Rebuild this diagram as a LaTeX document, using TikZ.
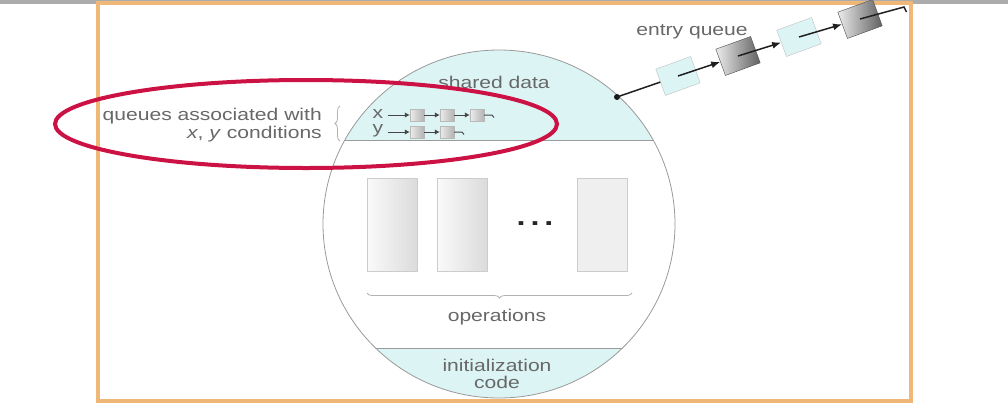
\documentclass[tikz,border=0pt]{standalone}
\usepackage{fontspec}
\setmainfont{Liberation Sans}[FakeStretch=1.24]
\usetikzlibrary{shapes.geometric,arrows.meta,decorations.pathreplacing,calc}
\definecolor{txt}{HTML}{686868}
\definecolor{cyanfill}{HTML}{DDF4F4}
\definecolor{framecol}{HTML}{F0B878}
\definecolor{hlcol}{HTML}{CC1144}
\definecolor{edgecol}{HTML}{9A9A9A}
\begin{document}
\begin{tikzpicture}[x=1pt,y=-1pt,
  lbl/.style={text=txt, font=\fontsize{17}{17}\selectfont, inner sep=0pt, align=center},
  opbox/.style={draw=gray!40, minimum width=50pt, minimum height=93pt, inner sep=0pt, left color=gray!4, right color=gray!28},
  opboxlight/.style={draw=gray!40, minimum width=50pt, minimum height=93pt, inner sep=0pt, fill=blue!3!gray!12},
  eqlight/.style={draw=gray!50, fill=cyanfill, minimum width=37pt, minimum height=28pt, inner sep=0pt, rotate=20},
  eqdark/.style={draw=gray!60!black, minimum width=37pt, minimum height=28pt, inner sep=0pt, rotate=20, left color=gray!15, right color=gray!75!black},
  ptr/.style={draw=gray!25!black, line width=1.5pt, -{Latex[length=9pt,width=7pt]}},
  plain/.style={draw=gray!25!black, line width=1.5pt},
  sq/.style={draw=gray!55, minimum width=14pt, minimum height=12pt, inner sep=0pt, left color=gray!15, right color=gray!60},
  sarr/.style={draw=gray!55!black, line width=1pt, -{Latex[length=5pt,width=5.5pt]}},
  stail/.style={draw=gray!55!black, line width=1pt},
  bracestyle/.style={draw=gray!60, line width=0.8pt, decorate}
]
\useasboundingbox (0,0) rectangle (1008,407);
\fill[white] (0,0) rectangle (1008,407);
\fill[gray!65] (0,0) rectangle (1008,4);
\draw[framecol, line width=4pt] (98,3) rectangle (911,401);

% monitor ellipse with filled regions
\begin{scope}
  \clip (499,224) ellipse [x radius=176, y radius=174];
  \fill[cyanfill] (300,0) rectangle (700,140);
  \fill[cyanfill] (300,348) rectangle (700,410);
  \draw[edgecol, line width=0.8pt] (300,140) -- (700,140);
  \draw[edgecol, line width=0.8pt] (300,348) -- (700,348);
\end{scope}
\draw[edgecol, line width=0.8pt] (499,224) ellipse [x radius=176, y radius=174];

% labels
\node[lbl] (shared) at (494,82) {shared data};
\node[lbl, anchor=east] (qa1) at (322,116) {queues associated with};
\node[lbl, anchor=east] (qa2) at (322,134) {\textit{x}, \textit{y} conditions};
\draw[bracestyle, decoration={brace, amplitude=5pt}] (340,141) -- (340,106);
\node[lbl] (init) at (497,374) {initialization\\code};
\node[lbl] (ops) at (497,317) {operations};

% operation boxes
\node[opbox] (op1) at (392,225) {};
\node[opbox] (op2) at (462,225) {};
\node[opboxlight] (op3) at (602,225) {};
\node[text=black!85, font=\fontsize{26}{26}\selectfont\bfseries] (dots) at (535,224) {.\hspace{5pt}.\hspace{5pt}.};
\draw[bracestyle, decoration={brace, amplitude=5pt}] (632,293) -- (367,293);

% condition queues
\node[lbl, anchor=center] (xl) at (378,114) {x};
\node[lbl, anchor=center] (yl) at (378,131) {y};
\coordinate (xs) at (388,115);
\coordinate (ys) at (388,132);
\node[sq] (x1) at (417,115) {};
\node[sq] (x2) at (447,115) {};
\node[sq] (x3) at (477,115) {};
\node[sq] (y1) at (417,132) {};
\node[sq] (y2) at (447,132) {};
\coordinate (xe) at (492,115);
\coordinate (ye) at (462,132);
\draw[sarr] (xs) -- (x1.west);
\draw[sarr] (x1.east) -- (x2.west);
\draw[sarr] (x2.east) -- (x3.west);
\draw[stail] (x3.east) -- (xe) -- ++(2,2.5);
\draw[sarr] (ys) -- (y1.west);
\draw[sarr] (y1.east) -- (y2.west);
\draw[stail] (y2.east) -- (ye) -- ++(2,2.5);

% entry queue
\node[lbl] (eq) at (692,32) {entry queue};
\coordinate (ed) at (617,97);
\node[eqlight] (l1) at (678,76) {};
\node[eqdark] (d1) at (738,56) {};
\node[eqlight] (l2) at (799,37) {};
\node[eqdark] (d2) at (860,19) {};
\coordinate (eqend) at (904,7);
\fill[gray!20!black] (ed) circle [radius=3];
\draw[plain] (ed) -- (l1);
\draw[ptr] (l1.center) -- (d1);
\draw[ptr] (d1.center) -- (l2);
\draw[ptr] (l2.center) -- (d2);
\draw[plain] (d2.center) -- (eqend) -- ++(2.5,5);

% highlight ellipse
\draw[hlcol, line width=4pt] (306,124) ellipse [x radius=251, y radius=44];
\end{tikzpicture}
\end{document}
